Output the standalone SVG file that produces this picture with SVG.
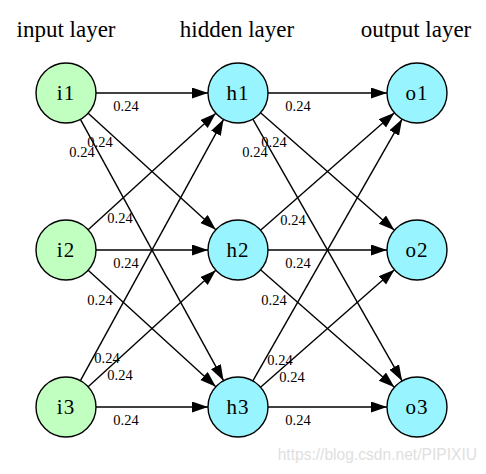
<svg xmlns="http://www.w3.org/2000/svg" width="486" height="474" viewBox="0 0 486 474">
<defs>
<marker id="arr" markerUnits="userSpaceOnUse" markerWidth="17" markerHeight="12" refX="16" refY="5.5" orient="auto"><path d="M0,0 L16,5.5 L0,11 Z" fill="#000"/></marker>
<style>
.title{font-family:"Liberation Serif","Times New Roman",serif;font-size:23px;fill:#000;text-anchor:middle}
.nl{font-family:"Liberation Serif","Times New Roman",serif;font-size:21px;fill:#000;text-anchor:middle;letter-spacing:1px}
.el{font-family:"Liberation Serif","Times New Roman",serif;font-size:14.5px;fill:#000;text-anchor:middle}
.in{fill:#c1ffc1;stroke:#000;stroke-width:1.4}
.hid{fill:#98f5ff;stroke:#000;stroke-width:1.4}
.e{stroke:#000;stroke-width:1.4;fill:none;marker-end:url(#arr)}
.wm{font-family:"Liberation Sans",Arial,sans-serif;font-size:15.6px;fill:#e0e0e0;text-anchor:end}
</style>
</defs>
<rect width="486" height="474" fill="#fff"/>
<g id="titles">
<text class="title" x="66" y="37">input layer</text>
<text class="title" x="237" y="37">hidden layer</text>
<text class="title" x="416" y="37">output layer</text>
</g>
<g id="connectors">
<line class="e" x1="96" y1="93" x2="208" y2="93"/>
<line class="e" x1="96" y1="250" x2="208" y2="250"/>
<line class="e" x1="96" y1="407" x2="208" y2="407"/>
<line class="e" x1="88.16" y1="113.23" x2="215.84" y2="229.77"/>
<line class="e" x1="88.16" y1="270.23" x2="215.84" y2="386.77"/>
<line class="e" x1="88.16" y1="229.77" x2="215.84" y2="113.23"/>
<line class="e" x1="88.16" y1="386.77" x2="215.84" y2="270.23"/>
<line class="e" x1="80.41" y1="119.31" x2="223.59" y2="380.69"/>
<line class="e" x1="80.41" y1="380.69" x2="223.59" y2="119.31"/>
<line class="e" x1="268" y1="93" x2="387" y2="93"/>
<line class="e" x1="268" y1="250" x2="387" y2="250"/>
<line class="e" x1="268" y1="407" x2="387" y2="407"/>
<line class="e" x1="260.55" y1="112.78" x2="394.45" y2="230.22"/>
<line class="e" x1="260.55" y1="269.78" x2="394.45" y2="387.22"/>
<line class="e" x1="260.55" y1="230.22" x2="394.45" y2="112.78"/>
<line class="e" x1="260.55" y1="387.22" x2="394.45" y2="269.78"/>
<line class="e" x1="252.86" y1="119.06" x2="402.14" y2="380.94"/>
<line class="e" x1="252.86" y1="380.94" x2="402.14" y2="119.06"/>
</g>
<g id="edge-labels">
<text class="el" x="126" y="111">0.24</text>
<text class="el" x="100" y="147">0.24</text>
<text class="el" x="82" y="157">0.24</text>
<text class="el" x="120" y="223">0.24</text>
<text class="el" x="126" y="268">0.24</text>
<text class="el" x="100" y="305">0.24</text>
<text class="el" x="107" y="363">0.24</text>
<text class="el" x="120" y="380">0.24</text>
<text class="el" x="126" y="425">0.24</text>
<text class="el" x="298" y="111">0.24</text>
<text class="el" x="274" y="147">0.24</text>
<text class="el" x="255" y="157">0.24</text>
<text class="el" x="293" y="225">0.24</text>
<text class="el" x="298" y="268">0.24</text>
<text class="el" x="274" y="305">0.24</text>
<text class="el" x="280" y="365">0.24</text>
<text class="el" x="292" y="382">0.24</text>
<text class="el" x="298" y="425">0.24</text>
</g>
<g id="i1"><circle class="in" cx="66" cy="93" r="30"/><text class="nl" x="66" y="100">i1</text></g>
<g id="i2"><circle class="in" cx="66" cy="250" r="30"/><text class="nl" x="66" y="257">i2</text></g>
<g id="i3"><circle class="in" cx="66" cy="407" r="30"/><text class="nl" x="66" y="414">i3</text></g>
<g id="h1"><circle class="hid" cx="238" cy="93" r="30"/><text class="nl" x="238" y="100">h1</text></g>
<g id="h2"><circle class="hid" cx="238" cy="250" r="30"/><text class="nl" x="238" y="257">h2</text></g>
<g id="h3"><circle class="hid" cx="238" cy="407" r="30"/><text class="nl" x="238" y="414">h3</text></g>
<g id="o1"><circle class="hid" cx="417" cy="93" r="30"/><text class="nl" x="417" y="100">o1</text></g>
<g id="o2"><circle class="hid" cx="417" cy="250" r="30"/><text class="nl" x="417" y="257">o2</text></g>
<g id="o3"><circle class="hid" cx="417" cy="407" r="30"/><text class="nl" x="417" y="414">o3</text></g>
<text class="wm" x="477" y="460">https://blog.csdn.net/PIPIXIU</text>
</svg>
